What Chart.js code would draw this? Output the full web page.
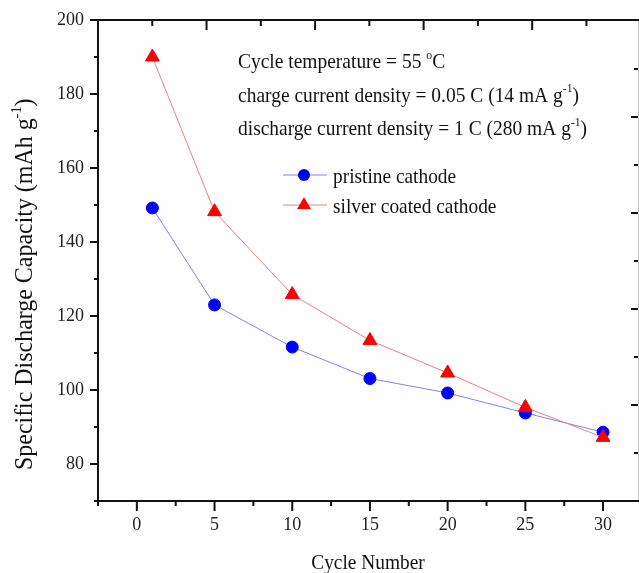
<!DOCTYPE html>
<html lang="en">
<head>
<meta charset="UTF-8">
<title>Specific Discharge Capacity</title>
<script src="https://cdn.jsdelivr.net/npm/chart.js"></script>
<style>
  html, body { margin: 0; padding: 0; background: #fff; overflow: hidden; }
  #wrap { width: 639px; height: 573px; }
</style>
</head>
<body>
<div id="wrap"><canvas id="chart"></canvas></div>
<script>
// data
const cycles = [1, 5, 10, 15, 20, 25, 30];
const pristine = [149.2, 123.0, 111.6, 103.1, 99.2, 93.8, 88.6];
const silver = [190.0, 148.2, 125.8, 113.4, 104.6, 95.3, 87.2];

// axis ticks
const xMajor = [0, 5, 10, 15, 20, 25, 30];
const xMinor = [-2.5, 2.5, 7.5, 12.5, 17.5, 22.5, 27.5];
const yMajor = [80, 100, 120, 140, 160, 180, 200];
const yMinor = [70, 90, 110, 130, 150, 170, 190];
// mirror axes on top / right (own scales, no labels)
const topMajor = [2, 4, 6, 8];
const topMinor = [1, 3, 5, 7, 9];
const rightMajor = [2, 4, 6, 8];
const rightMinor = [1, 3, 5, 7, 9];

const notes = [
  'Cycle temperature = 55 ^{o}C',
  'charge current density = 0.05 C (14 mA g^{-1})',
  'discharge current density = 1 C (280 mA g^{-1})'
];
const xTitle = 'Cycle Number';
const yTitle = 'Specific Discharge Capacity (mAh g^{-1})';

const FONT = "'Liberation Serif', 'Times New Roman', serif";

// text with ^{...} superscripts, squeezed horizontally like the original
function richText(ctx, str, x, y, size, squeeze, rot) {
  const parts = str.split(/\^\{([^}]*)\}/);
  ctx.save();
  ctx.translate(x, y);
  if (rot) ctx.rotate(rot);
  ctx.scale(squeeze, 1);
  ctx.fillStyle = '#111';
  ctx.textBaseline = 'alphabetic';
  ctx.textAlign = 'left';
  let cx = 0;
  parts.forEach((p, i) => {
    const sup = i % 2 === 1;
    const fs = sup ? size * 0.6 : size;
    ctx.font = fs + 'px ' + FONT;
    ctx.fillText(p, cx, sup ? -size * 0.42 : 0);
    cx += ctx.measureText(p).width;
  });
  ctx.restore();
}

const frame = {
  id: 'frame',
  afterDraw(chart) {
    const ctx = chart.ctx;
    const a = chart.chartArea;
    const sx = chart.scales.x, sy = chart.scales.y;
    const s2x = chart.scales.x2, s2y = chart.scales.y2;
    ctx.save();
    // right edge is cropped in the original, only a faint line is left
    ctx.strokeStyle = '#c8c8c8';
    ctx.lineWidth = 1;
    ctx.beginPath();
    ctx.moveTo(a.right + 0.5, a.top); ctx.lineTo(a.right + 0.5, a.bottom);
    ctx.stroke();

    ctx.strokeStyle = '#111';
    ctx.lineWidth = 2;
    ctx.beginPath();
    ctx.moveTo(a.left, a.top); ctx.lineTo(a.right + 1, a.top);
    ctx.moveTo(a.left, a.top - 1); ctx.lineTo(a.left, a.bottom);
    ctx.lineTo(a.right + 1, a.bottom);
    const tick = (x1, y1, x2, y2) => { ctx.moveTo(x1, y1); ctx.lineTo(x2, y2); };
    xMajor.forEach(v => { const p = sx.getPixelForValue(v); tick(p, a.bottom, p, a.bottom + 10); });
    xMinor.forEach(v => { const p = sx.getPixelForValue(v); tick(p, a.bottom, p, a.bottom + 5); });
    yMajor.forEach(v => { const p = sy.getPixelForValue(v); tick(a.left, p, a.left - 8, p); });
    yMinor.forEach(v => { const p = sy.getPixelForValue(v); tick(a.left, p, a.left - 4, p); });
    topMajor.forEach(v => { const p = s2x.getPixelForValue(v); tick(p, a.top, p, a.top + 10); });
    topMinor.forEach(v => { const p = s2x.getPixelForValue(v); tick(p, a.top, p, a.top + 6); });
    rightMajor.forEach(v => { const p = s2y.getPixelForValue(v); tick(a.right, p, a.right - 7, p); });
    rightMinor.forEach(v => { const p = s2y.getPixelForValue(v); tick(a.right, p, a.right - 4, p); });
    ctx.stroke();

    // annotation block
    notes.forEach((t, i) => richText(ctx, t, 238, 68 + i * 33.5, 22, 0.885));

    // legend
    chart.data.datasets.forEach((ds, i) => {
      const y = 175 + i * 30;
      ctx.strokeStyle = ds.borderColor;
      ctx.lineWidth = 1;
      ctx.beginPath(); ctx.moveTo(283, y); ctx.lineTo(327, y); ctx.stroke();
      ctx.fillStyle = ds.pointBackgroundColor;
      ctx.beginPath();
      if (ds.pointStyle === 'triangle') {
        const r = ds.pointRadius;
        ctx.moveTo(304, y - r);
        ctx.lineTo(304 + r * 0.866, y + r * 0.5);
        ctx.lineTo(304 - r * 0.866, y + r * 0.5);
        ctx.closePath();
      } else {
        ctx.arc(304, y, ds.pointRadius, 0, Math.PI * 2);
      }
      ctx.fill();
      richText(ctx, ds.label, 333, y + 8, 22, 0.88);
    });

    // axis titles
    ctx.font = '22px ' + FONT;
    const w = ctx.measureText(xTitle).width * 0.88;
    richText(ctx, xTitle, 368 - w / 2, 569, 22, 0.88);
    richText(ctx, yTitle, 32, 470, 26, 0.92, -Math.PI / 2);
    ctx.restore();
  }
};

new Chart(document.getElementById('chart'), {
  type: 'line',
  data: {
    labels: cycles,
    datasets: [
      {
        label: 'pristine cathode',
        data: cycles.map((c, i) => ({ x: c, y: pristine[i] })),
        borderColor: '#8383e6',
        borderWidth: 1,
        pointStyle: 'circle',
        pointRadius: 6,
        pointBackgroundColor: '#0000ff',
        pointBorderColor: '#0000ff',
        pointBorderWidth: 1,
        order: 1
      },
      {
        label: 'silver coated cathode',
        data: cycles.map((c, i) => ({ x: c, y: silver[i] })),
        borderColor: '#e88080',
        borderWidth: 1,
        pointStyle: 'triangle',
        pointRadius: 8,
        pointBackgroundColor: '#ff0000',
        pointBorderColor: '#ff0000',
        pointBorderWidth: 1,
        order: 0
      }
    ]
  },
  options: {
    responsive: true,
    maintainAspectRatio: false,
    animation: false,
    layout: { autoPadding: false, padding: { top: 20, right: 1, left: 0, bottom: 0 } },
    plugins: { legend: { display: false }, tooltip: { enabled: false } },
    elements: { line: { tension: 0 } },
    scales: {
      x: {
        type: 'linear',
        position: 'bottom',
        min: -2.5,
        max: 32.25,
        afterBuildTicks: s => { s.ticks = xMajor.map(v => ({ value: v })); },
        afterFit: s => { s.height = 72; s.paddingLeft = 0; s.paddingRight = 0; },
        grid: { display: false, drawTicks: false },
        border: { display: false },
        ticks: { padding: 13, color: '#222', font: { family: FONT, size: 18 } }
      },
      y: {
        min: 70,
        max: 200,
        afterBuildTicks: s => { s.ticks = yMajor.map(v => ({ value: v })); },
        afterFit: s => { s.width = 98; s.paddingTop = 0; s.paddingBottom = 0; },
        grid: { display: false, drawTicks: false },
        border: { display: false },
        ticks: { padding: 14, color: '#222', font: { family: FONT, size: 18 } }
      },
      x2: {
        type: 'linear', position: 'top', display: false, min: 0, max: 9.95,
        ticks: { display: false },
        afterFit: s => { s.height = 0; s.paddingLeft = 0; s.paddingRight = 0; }
      },
      y2: {
        type: 'linear', position: 'right', display: false, min: 0, max: 10.02,
        ticks: { display: false },
        afterFit: s => { s.width = 0; s.paddingTop = 0; s.paddingBottom = 0; }
      }
    }
  },
  plugins: [frame]
});
</script>
</body>
</html>
